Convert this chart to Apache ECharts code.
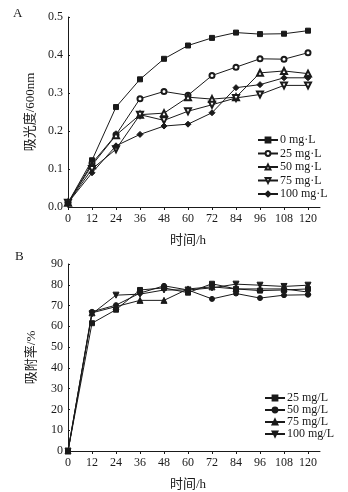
<!DOCTYPE html>
<html><head><meta charset="utf-8">
<script src="https://cdn.jsdelivr.net/npm/echarts@6/dist/echarts.min.js"></script>
<style>html,body{margin:0;padding:0;background:#fff}#c{width:348px;height:492px}</style>
</head><body><div id="c"></div>
<script>
// ---- data ----
const hours = [0, 12, 24, 36, 48, 60, 72, 84, 96, 108, 120];
const xTickLabels = [0, 12, 24, 36, 48, 60, 72, 84, 96, 108, 120];
const aNames = ['0 mg·L', '25 mg·L', '50 mg·L', '75 mg·L', '100 mg·L'];
const a0   = [0.011, 0.123, 0.263, 0.336, 0.390, 0.425, 0.445, 0.459, 0.455, 0.456, 0.464];
const a25  = [0.011, 0.115, 0.190, 0.285, 0.304, 0.294, 0.346, 0.368, 0.390, 0.389, 0.406];
const a50  = [0.011, 0.110, 0.189, 0.243, 0.247, 0.289, 0.284, 0.289, 0.353, 0.358, 0.351];
const a75  = [0.011, 0.100, 0.152, 0.243, 0.228, 0.252, 0.269, 0.287, 0.296, 0.320, 0.320];
const a100 = [0.011, 0.090, 0.161, 0.191, 0.213, 0.218, 0.248, 0.314, 0.322, 0.340, 0.340];
const bNames = ['25 mg/L', '50 mg/L', '75 mg/L', '100 mg/L'];
const b25  = [0, 61.5, 68.0, 77.5, 78.5, 76.2, 80.5, 78.0, 77.2, 77.5, 78.0];
const b50  = [0, 67.0, 70.2, 76.0, 79.5, 77.5, 73.2, 75.8, 73.6, 75.0, 75.2];
const b75  = [0, 66.5, 69.5, 72.5, 72.5, 78.0, 79.0, 78.0, 78.0, 78.0, 76.5];
const b100 = [0, 66.0, 75.0, 75.5, 77.5, 77.5, 78.5, 80.3, 79.8, 79.2, 79.8];
const xName = '时间/h';
const aYName = '吸光度/600nm';
const bYName = '吸附率/%';

// ---- chart ----
const FONT = "'Liberation Serif', 'Noto Sans CJK SC', serif";
const INK = '#1a1a1a';
const pts = arr => hours.map((h, i) => [h, arr[i]]);

function xAxis(gi) {
  return {
    type: 'value', gridIndex: gi, min: 0, max: 126,
    name: xName, nameLocation: 'middle', nameGap: 27,
    nameTextStyle: { fontFamily: FONT, fontSize: 13, color: INK, padding: [0, 12, 0, 0] },
    axisLine: { lineStyle: { color: INK, width: 1 } },
    axisTick: { inside: false, length: 3, customValues: xTickLabels, lineStyle: { color: INK } },
    axisLabel: { customValues: xTickLabels, margin: 6, fontFamily: FONT, fontSize: 12, color: INK },
    splitLine: { show: false }
  };
}
function yAxis(gi, max, interval, name, fmt, gap) {
  return {
    type: 'value', gridIndex: gi, min: 0, max: max, interval: interval,
    name: name, nameLocation: 'middle', nameGap: gap, nameRotate: 90,
    nameTextStyle: { fontFamily: FONT, fontSize: 13, color: INK },
    axisLine: { show: true, lineStyle: { color: INK, width: 1 } },
    axisTick: { show: true, inside: true, length: 2, lineStyle: { color: INK } },
    axisLabel: { margin: 5, fontFamily: FONT, fontSize: 12, color: INK, formatter: fmt },
    splitLine: { show: false }
  };
}
function line(name, arr, gi, symbol, size, rotate) {
  return {
    type: 'line', name: name, xAxisIndex: gi, yAxisIndex: gi,
    data: pts(arr), symbol: symbol, symbolSize: size, symbolRotate: rotate || 0,
    showAllSymbol: true,
    lineStyle: { color: INK, width: 1 },
    itemStyle: { color: INK, borderColor: INK, borderWidth: 1 },
    animation: false
  };
}

const chart = echarts.init(document.getElementById('c'), null, { renderer: 'canvas' });
chart.setOption({
  animation: false,
  backgroundColor: '#fff',
  textStyle: { fontFamily: FONT },
  graphic: [
    { type: 'text', left: 13, top: 7, style: { text: 'A', font: "13px 'Liberation Serif'", fill: INK } },
    { type: 'text', left: 15, top: 250, style: { text: 'B', font: "13px 'Liberation Serif'", fill: INK } }
  ],
  grid: [
    { left: 68, width: 252, top: 17, height: 190 },
    { left: 68, width: 252, top: 264, height: 190 }
  ],
  xAxis: [xAxis(0), xAxis(1)],
  yAxis: [
    yAxis(0, 0.5, 0.1, aYName, v => v.toFixed(1), 29),
    yAxis(1, 90, 10, bYName, v => String(v), 30)
  ],
  legend: [
    {
      orient: 'vertical', left: 252, top: 129, itemWidth: 20, itemHeight: 6, itemGap: 1.5,
      textStyle: { fontFamily: FONT, fontSize: 12, color: INK, lineHeight: 12, padding: [0, 0, 0, -3] },
      data: aNames
    },
    {
      orient: 'vertical', left: 259, top: 387, itemWidth: 20, itemHeight: 6, itemGap: 0,
      textStyle: { fontFamily: FONT, fontSize: 12, color: INK, lineHeight: 10.5, padding: [0, 0, 0, -3] },
      data: bNames
    }
  ],
  series: [
    line(aNames[0], a0, 0, 'rect', 5),
    line(aNames[1], a25, 0, 'emptyCircle', 5),
    line(aNames[2], a50, 0, 'emptyTriangle', 6),
    line(aNames[3], a75, 0, 'emptyTriangle', 6, 180),
    line(aNames[4], a100, 0, 'diamond', 6),
    line(bNames[0], b25, 1, 'rect', 5),
    line(bNames[1], b50, 1, 'circle', 5),
    line(bNames[2], b75, 1, 'triangle', 6),
    line(bNames[3], b100, 1, 'triangle', 6, 180)
  ]
});
</script></body></html>
